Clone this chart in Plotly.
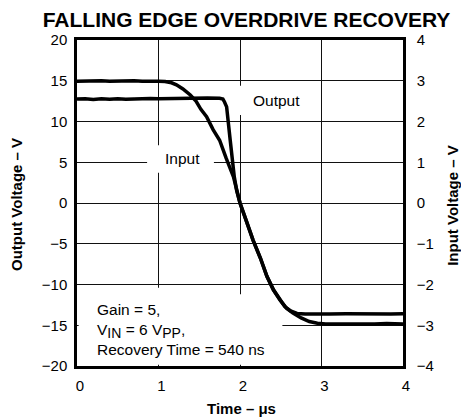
import plotly.graph_objects as go

# ---- data -----------------------------------------------------------------
# Input step (right axis, volts)
t_input = [0.00, 0.10, 0.20, 0.30, 0.40, 0.50, 0.60, 0.70, 0.80, 0.90, 1.00,
           1.08, 1.16, 1.22, 1.30, 1.39, 1.46, 1.52, 1.59, 1.67, 1.75, 1.83,
           1.92, 2.00, 2.08, 2.16, 2.25, 2.33, 2.41, 2.49, 2.57, 2.65, 2.75,
           2.85, 2.95, 3.05, 3.20, 3.35, 3.50, 3.65, 3.80, 4.00]
v_input = [2.99, 3.00, 2.99, 3.00, 2.99, 3.00, 2.99, 3.00, 2.99, 3.00, 2.99,
           2.98, 2.95, 2.90, 2.80, 2.65, 2.50, 2.30, 2.12, 1.80, 1.54, 1.10,
           0.64, 0.00, -0.45, -0.91, -1.35, -1.80, -2.13, -2.38, -2.58, -2.70,
           -2.82, -2.91, -2.95, -2.97, -2.97, -2.96, -2.97, -2.97, -2.96, -2.97]

# Amplifier output (left axis, volts)
t_output = [0.00, 0.10, 0.20, 0.30, 0.40, 0.50, 0.60, 0.70, 0.80, 0.90, 1.00,
            1.20, 1.40, 1.60, 1.75, 1.79, 1.81, 1.836, 1.88, 1.93, 1.96, 2.00,
            2.08, 2.16, 2.25, 2.33, 2.41, 2.49, 2.55, 2.62, 2.70, 2.80, 2.95,
            3.10, 3.30, 3.50, 3.70, 3.85, 4.00]
v_output = [12.75, 12.80, 12.70, 12.78, 12.72, 12.80, 12.74, 12.80, 12.76, 12.82, 12.80,
            12.85, 12.90, 12.88, 12.85, 12.75, 12.40, 11.80, 7.70, 3.20, 1.50, 0.00,
            -2.25, -4.55, -6.75, -9.00, -10.65, -11.90, -12.70, -13.25, -13.55, -13.62, -13.58,
            -13.62, -13.60, -13.64, -13.58, -13.62, -13.60]

x_ticks = [0, 1, 2, 3, 4]
left_ticks = [20, 15, 10, 5, 0, -5, -10, -15, -20]
right_ticks = [4, 3, 2, 1, 0, -1, -2, -3, -4]

FONT = "Liberation Sans, Arial, Helvetica, sans-serif"
INK = "#000000"

fig = go.Figure()

fig.add_trace(go.Scatter(x=t_output, y=v_output, mode="lines", yaxis="y",
                         line=dict(color=INK, width=3.5), name="Output",
                         showlegend=False))
fig.add_trace(go.Scatter(x=t_input, y=v_input, mode="lines", yaxis="y2",
                         line=dict(color=INK, width=3.5), name="Input",
                         showlegend=False))

# white backing behind the in-plot labels (hides the grid there)
label_boxes = [
    "M 1.98,10.8 L 2.95,10.8 L 2.95,14.4 L 1.98,14.4 Z",
    "M 0.86,3.7 L 1.68,3.7 L 1.68,7.1 L 0.86,7.1 Z",
    "M 0.02,-10.4 L 1.6,-10.4 L 1.6,-11.2 L 2.52,-11.2 L 2.52,-19.85 "
    "L 0.02,-19.85 Z",
]
for path in label_boxes:
    fig.add_shape(type="path", xref="x", yref="y", path=path,
                  fillcolor="white", line=dict(width=0), layer="between")

ann_font = dict(family=FONT, size=15.5, color=INK)
sub = '<sub><span style="font-size:14px">{}</span></sub>'
fig.add_annotation(x=2.45, y=12.6, xref="x", yref="y", text="Output",
                   showarrow=False, font=ann_font)
fig.add_annotation(x=1.29, y=5.5, xref="x", yref="y", text="Input",
                   showarrow=False, font=ann_font)
fig.add_annotation(x=0.22, y=-15.46, xref="x", yref="y", xanchor="left",
                   yanchor="middle", align="left", showarrow=False, font=ann_font,
                   text="Gain = 5,<br>V" + sub.format("IN") + " = 6 V"
                        + sub.format("PP") + ",<br>Recovery Time = 540 ns")

# axis titles
title_font = dict(family=FONT, size=15, color=INK)
fig.add_annotation(x=-0.184, y=0.494, xref="paper", yref="paper",
                   xanchor="center", yanchor="middle",
                   text="<b>Output Voltage – V</b>", textangle=-90,
                   showarrow=False, font=title_font)
fig.add_annotation(x=1.153, y=0.494, xref="paper", yref="paper",
                   xanchor="center", yanchor="middle",
                   text="<b>Input Voltage – V</b>", textangle=-90,
                   showarrow=False, font=title_font)
fig.add_annotation(x=0.506, y=-0.129, xref="paper", yref="paper",
                   xanchor="center", yanchor="middle",
                   text="<b>Time – μs</b>", showarrow=False, font=title_font)

axis_common = dict(showline=True, linecolor=INK, linewidth=2.5, mirror=True,
                   ticks="", zeroline=False,
                   tickfont=dict(family=FONT, size=15, color=INK))

fig.update_layout(
    width=461, height=418,
    margin=dict(l=77, r=58, t=40, b=52),
    paper_bgcolor="white", plot_bgcolor="white",
    title=dict(text="<b>FALLING EDGE OVERDRIVE RECOVERY</b>",
               x=246.5 / 461, xanchor="center", y=1 - 20 / 418, yanchor="middle",
               font=dict(family=FONT, size=21, color=INK)),
    xaxis=dict(range=[0, 4], tickvals=x_ticks, showgrid=True,
               gridcolor="#111111", gridwidth=1, ticklabelstandoff=4,
               ticklabelshift=3, **axis_common),
    yaxis=dict(range=[-20, 20], tickvals=left_ticks, showgrid=True,
               gridcolor="#111111", gridwidth=1, ticklabelstandoff=4,
               **axis_common),
    yaxis2=dict(range=[-4, 4], tickvals=right_ticks, overlaying="y",
                side="right", showgrid=False, ticklabelstandoff=8,
                **axis_common),
)

fig.write_html("out.html")
